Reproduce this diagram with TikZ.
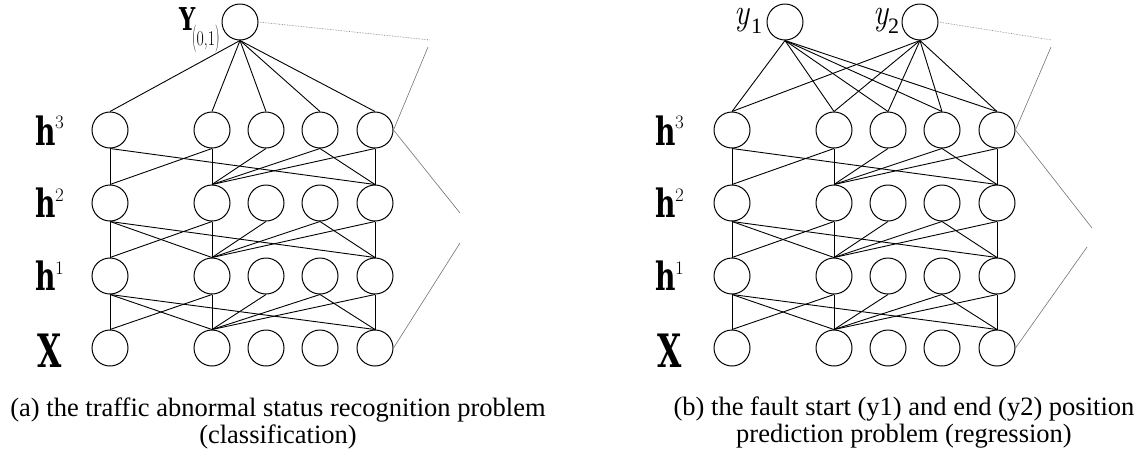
\documentclass[tikz,border=0pt]{standalone}
\usepackage{graphicx}
\usepackage{fontspec}
\newfontfamily\tnr{Liberation Serif}
\newfontfamily\slab{DejaVu Serif}
\newcommand\hglyph{{\slab\bfseries\fontsize{39}{39}\selectfont\scalebox{0.72}[1]{h}}}
\newcommand\xglyph{{\slab\bfseries\fontsize{46}{46}\selectfont\scalebox{0.68}[1]{X}}}
\newcommand\yglyph{{\slab\bfseries\fontsize{31.5}{32}\selectfont\scalebox{0.72}[1]{Y}}}
\newcommand\supfont{\fontsize{19}{19}\selectfont}
\newcommand\bigpar[1]{\scalebox{0.8}[1.3]{#1}}
\newcommand\ysub{\scalebox{0.75}[1]{\fontsize{21}{21}\selectfont\bigpar{(}0,1\bigpar{)}}}
\newcommand\outy{\scalebox{0.85}[1]{\fontsize{37}{37}\selectfont\itshape y}}
\begin{document}
\begin{tikzpicture}[x=1pt,y=-1pt,
  neuron/.style={circle,draw,line width=1pt,minimum size=36pt,inner sep=0pt},
  conn/.style={line width=0.9pt},
  guide/.style={line width=0.6pt,black!55},
  lab/.style={anchor=base west,inner sep=0pt,outer sep=0pt},
  caption/.style={align=center,inner sep=0pt,font=\tnr\fontsize{26.5}{27}\selectfont}]
\useasboundingbox (0,0) rectangle (1146,475);

% neurons
\foreach \p/\dx in {a/0,b/622} {
  \foreach \l/\y in {0/348,1/276,2/203,3/130} {
    \foreach \c/\x in {1/110,2/212,3/266,4/320,5/375} {
      \node[neuron] (\p\l c\c) at (\x+\dx,\y) {};
    }
  }
}
\node[neuron] (aY) at (240,22) {};
\node[neuron] (by1) at (785,22) {};
\node[neuron] (by2) at (920,22) {};

% connections
\foreach \p in {a,b} {
  \foreach \u/\v in {1/1,1/5,2/1,2/2,3/2,4/2,4/5,5/2,5/5}
    \draw[conn] (\p3c\u.south) -- (\p2c\v.north);
  \foreach \hi/\lo in {2/1,1/0} {
    \foreach \u/\v in {1/1,1/2,1/5,2/1,2/2,3/2,4/2,4/5,5/2,5/5}
      \draw[conn] (\p\hi c\u.south) -- (\p\lo c\v.north);
  }
}
\foreach \c in {1,...,5} {
  \draw[conn] (aY.south) -- (a3c\c.north);
  \draw[conn] (by1.south) -- (b3c\c.north);
  \draw[conn] (by2.south) -- (b3c\c.north);
}

% bracket guides
\coordinate (aT1) at (430,40);
\coordinate (aT2) at (428,47);
\coordinate (aM1) at (460,213);
\coordinate (aM2) at (460,243);
\coordinate (bT1) at (1052,40);
\coordinate (bT2) at (1051,47);
\coordinate (bM1) at (1092,228);
\coordinate (bM2) at (1087,247);
\draw[guide,densely dotted] (aY.east) -- (aT1);
\draw[guide] (aT2) -- (a3c5.east) -- (aM1);
\draw[guide] (aM2) -- (a0c5.east);
\draw[guide,densely dotted] (by2.east) -- (bT1);
\draw[guide] (bT2) -- (b3c5.east) -- (bM1);
\draw[guide] (bM2) -- (b0c5.east);

% layer labels
\foreach \p/\dx in {a/0,b/620} {
  \node[lab] (\p h3) at (35+\dx,145) {\hglyph};
  \node[lab] (\p h3s) at (55+\dx,128) {\supfont 3};
  \node[lab] (\p h2) at (35+\dx,217) {\hglyph};
  \node[lab] (\p h2s) at (55+\dx,201) {\supfont 2};
  \node[lab] (\p h1) at (35+\dx,290) {\hglyph};
  \node[lab] (\p h1s) at (55+\dx,274) {\supfont 1};
  \node[lab] (\p X) at (37+\dx,367) {\xglyph};
}

% output labels
\node[lab] (aYl) at (179,30) {\yglyph\kern-3pt\raisebox{-15pt}{\ysub}};
\node[lab] (by1l) at (734,24) {\outy};
\node[lab] (by1s) at (751,33) {\tnr\fontsize{22}{22}\selectfont 1};
\node[lab] (by2l) at (873,24) {\outy};
\node[lab] (by2s) at (888,33) {\tnr\fontsize{22}{22}\selectfont 2};

% captions
\node[caption] (capa) at (278,423) {(a) the traffic abnormal status recognition problem\\(classification)};
\node[caption] (capb) at (904,423) {(b) the fault start (y1) and end (y2) position\\prediction problem (regression)};
\end{tikzpicture}
\end{document}
